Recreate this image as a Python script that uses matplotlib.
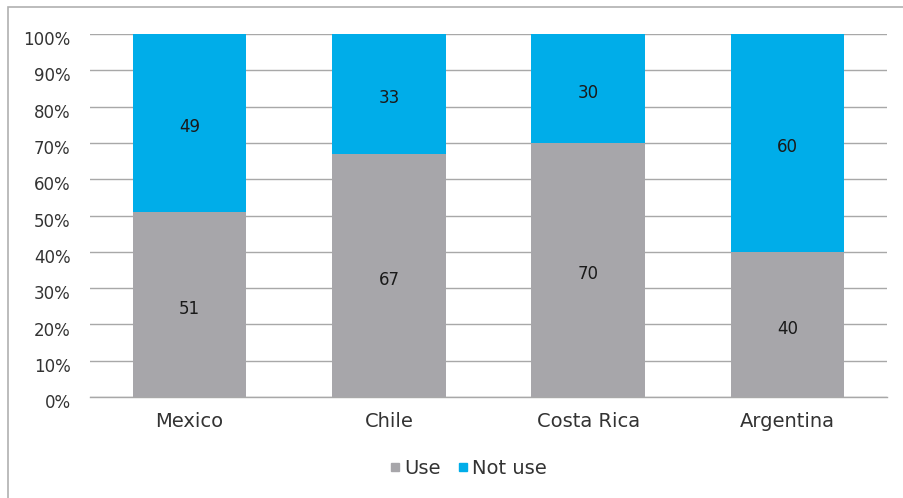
import matplotlib.pyplot as plt
import matplotlib.transforms as mtransforms
import numpy as np
from matplotlib.patches import Rectangle
from matplotlib.lines import Line2D

countries = ['Mexico', 'Chile', 'Costa Rica', 'Argentina']
use = [51, 67, 70, 40]
not_use = [49, 33, 30, 60]
yticks = [0, 10, 20, 30, 40, 50, 60, 70, 80, 90, 100]

gray = '#A7A6AA'
blue = '#00ADE9'
grid_col = '#A8A8A8'
text_col = '#333333'

fig = plt.figure(figsize=(9.04, 4.98), dpi=100)
ax = fig.add_axes([0.0996, 0.2028, 0.8816, 0.7289])

x = np.arange(len(countries))
w = 0.57
ax.bar(x, use, w, color=gray, zorder=2)
ax.bar(x, not_use, w, bottom=use, color=blue, zorder=2)

# value labels sit a little below the segment middle
for i in range(len(countries)):
    ax.annotate(str(use[i]), (x[i], use[i] / 2), xytext=(0, -3),
                textcoords='offset points', ha='center', va='center',
                fontsize=12, color='#1a1a1a', zorder=3)
    ax.annotate(str(not_use[i]), (x[i], use[i] + not_use[i] / 2), xytext=(0, -3),
                textcoords='offset points', ha='center', va='center',
                fontsize=12, color='#1a1a1a', zorder=3)

ax.set_xlim(-0.5, len(countries) - 0.5)
ax.set_ylim(0, 100)
ax.set_yticks(yticks)
ax.set_yticklabels([str(t) + '%' for t in yticks])
ax.set_xticks(x)
ax.set_xticklabels(countries)
ax.yaxis.grid(True, color=grid_col, linewidth=1.0, zorder=0)
ax.set_axisbelow(True)
for s in ax.spines.values():
    s.set_visible(False)
ax.tick_params(axis='both', length=0, colors=text_col)
ax.tick_params(axis='x', pad=11, labelsize=14)
ax.tick_params(axis='y', pad=14, labelsize=12)
shift = mtransforms.ScaledTranslation(0, -3 / 72, fig.dpi_scale_trans)
for lab in ax.get_yticklabels():
    lab.set_transform(lab.get_transform() + shift)
# baseline at 0%
ax.axhline(0, color=grid_col, linewidth=1.0, zorder=1, clip_on=False)

handles = [Line2D([], [], marker='s', linestyle='', color=gray, markersize=6),
           Line2D([], [], marker='s', linestyle='', color=blue, markersize=6)]
fig.legend(handles, ['Use', 'Not use'], loc='center', bbox_to_anchor=(0.518, 0.06),
           ncol=2, frameon=False, fontsize=14, handlelength=0.5,
           handletextpad=0.2, columnspacing=0.9, labelcolor=text_col)

# outer frame around the chart
fig.patches.append(Rectangle((8 / 904, -0.1), 1.0, (498 - 7) / 498 + 0.1,
                             transform=fig.transFigure, fill=False,
                             edgecolor='#B0B0B0', linewidth=1.2))

fig.savefig('out.png', dpi=100)
